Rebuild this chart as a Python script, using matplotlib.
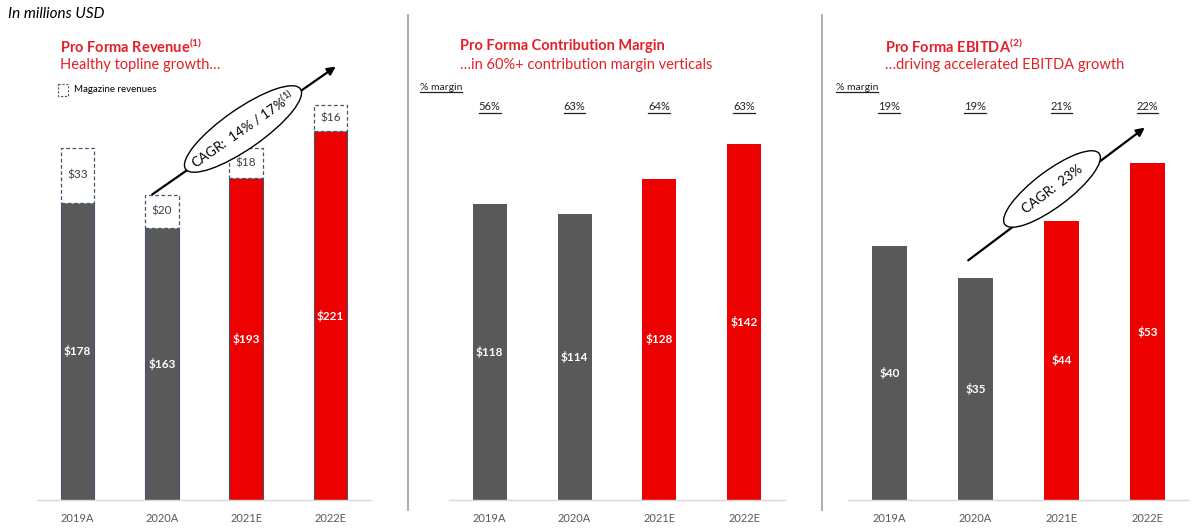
import numpy as np
import matplotlib
matplotlib.use("Agg")
import matplotlib.pyplot as plt
from matplotlib.patches import Ellipse, Rectangle, FancyArrowPatch
from matplotlib.transforms import Affine2D, blended_transform_factory

plt.rcParams['font.family'] = ['Lato', 'DejaVu Sans']
plt.rcParams['mathtext.fontset'] = 'custom'
plt.rcParams['mathtext.rm'] = 'Lato'
plt.rcParams['mathtext.bf'] = 'Lato:bold'

years = ['2019A', '2020A', '2021E', '2022E']
revenue = [178, 163, 193, 221]
magazine = [33, 20, 18, 16]
contribution = [118, 114, 128, 142]
contrib_margin = ['56%', '63%', '64%', '63%']
ebitda = [40, 35, 44, 53]
ebitda_margin = ['19%', '19%', '21%', '22%']

GRAY = '#595959'
RED = '#EC0000'
TITLE_RED = '#E3202A'
EDGE = '#44546A'

W, H = 1200, 530
fig = plt.figure(figsize=(W / 100, H / 100), dpi=100)
# pixel coordinates, origin top-left
px = Affine2D().scale(1 / 100, -1 / 100).translate(0, H / 100) + fig.dpi_scale_trans


def make_ax(x0, x1, top=100, bottom=500):
    ax = fig.add_axes([x0 / W, 1 - bottom / H, (x1 - x0) / W, (bottom - top) / H])
    for s in ['top', 'left', 'right']:
        ax.spines[s].set_visible(False)
    ax.spines['bottom'].set_color('#D9D9D9')
    ax.spines['bottom'].set_linewidth(1)
    ax.set_yticks([])
    ax.set_xticks(range(4))
    ax.set_xticklabels(years, fontsize=8, color=GRAY)
    ax.tick_params(axis='x', length=0, pad=9)
    ax.set_xlim(-0.48, 3.48)
    return ax


bar_colors = [GRAY, GRAY, RED, RED]
x = np.arange(4)
underlined = []

# ---- panel 1: revenue ----
ax1 = make_ax(37, 371)
ax1.set_ylim(0, 239.7)
ax1.bar(x, revenue, width=0.4, color=bar_colors, edgecolor=EDGE, linewidth=0.8)
ax1.bar(x, magazine, bottom=revenue, width=0.4, facecolor='white',
        edgecolor=EDGE, linestyle=(0, (3, 2)), linewidth=0.9)
for i in range(4):
    ax1.text(i, revenue[i] / 2, f'${revenue[i]}', ha='center', va='center',
             color='white', fontsize=8.5, fontweight='bold')
    ax1.text(i, revenue[i] + magazine[i] / 2, f'${magazine[i]}', ha='center',
             va='center', color='#404040', fontsize=8.5)

# ---- panel 2: contribution margin ----
ax2 = make_ax(449, 785)
ax2.set_ylim(0, 159.4)
ax2.bar(x, contribution, width=0.4, color=bar_colors)
for i in range(4):
    ax2.text(i, contribution[i] / 2, f'${contribution[i]}', ha='center', va='center',
             color='white', fontsize=8.5, fontweight='bold')
tr2 = blended_transform_factory(ax2.transData, px)
for i, m in enumerate(contrib_margin):
    underlined.append(ax2.text(i, 107, m, transform=tr2, ha='center', va='center',
                               fontsize=8, color='#222222'))

# ---- panel 3: EBITDA ----
ax3 = make_ax(848, 1189)
ax3.set_ylim(0, 63)
ax3.bar(x, ebitda, width=0.4, color=bar_colors)
for i in range(4):
    ax3.text(i, ebitda[i] / 2, f'${ebitda[i]}', ha='center', va='center',
             color='white', fontsize=8.5, fontweight='bold')
tr3 = blended_transform_factory(ax3.transData, px)
for i, m in enumerate(ebitda_margin):
    underlined.append(ax3.text(i, 107, m, transform=tr3, ha='center', va='center',
                               fontsize=8, color='#222222'))

# ---- titles and notes ----
fig.text(8, 14, 'In millions USD', transform=px, fontsize=11, style='italic',
         va='center', color='black')

titles = [(60, 'Pro Forma Revenue', r'$^{\mathbf{(1)}}$', 'Healthy topline growth…'),
          (460, 'Pro Forma Contribution Margin', '', '…in 60%+ contribution margin verticals'),
          (885, 'Pro Forma EBITDA', r'$^{\mathbf{(2)}}$', '…driving accelerated EBITDA growth')]
for xt, t, sup, sub in titles:
    fig.text(xt, 46, t + sup, transform=px, fontsize=10.5, fontweight='bold',
             color=TITLE_RED, va='center')
    fig.text(xt, 65, sub, transform=px, fontsize=10.5, color=TITLE_RED, va='center')

for xm in (420, 836):
    underlined.append(fig.text(xm, 87, '% margin', transform=px, fontsize=7.5,
                               color='#222222', va='center'))

# underline the margin labels
fig.canvas.draw()
renderer = fig.canvas.get_renderer()
for t in underlined:
    bb = t.get_window_extent(renderer)
    yl = H - bb.y0 + 0.5
    fig.add_artist(plt.Line2D([bb.x0, bb.x1], [yl, yl], transform=px,
                              color='#222222', lw=0.9, zorder=5))

# legend for magazine revenues
fig.add_artist(Rectangle((58, 84), 10, 12, transform=px, facecolor='white',
                         edgecolor=EDGE, linestyle=(0, (2, 1.5)), linewidth=0.8))
fig.text(74, 90, 'Magazine revenues', transform=px, fontsize=7, va='center',
         color='black')

# separators
for xs in (408, 822):
    fig.add_artist(plt.Line2D([xs, xs], [15, 510], transform=px, color='#A6A6A6', lw=1.3))

# CAGR arrows and ellipses
for (x0, y0, x1, y1), (cx, cy, ew, eh), label in [
        ((150, 196, 338, 65), (243, 129, 140, 40), r'CAGR:  14% / 17%$^{\mathregular{(1)}}$'),
        ((966, 262, 1147, 126), (1052, 189, 118, 36), 'CAGR:  23%')]:
    ang = np.degrees(np.arctan2(y0 - y1, x1 - x0))
    fig.add_artist(FancyArrowPatch(
        (x0, y0), (x1, y1), transform=px, arrowstyle='-|>', mutation_scale=12,
        color='black', lw=1.6))
    fig.add_artist(Ellipse((cx, cy), ew, eh, angle=-ang, transform=px,
                           facecolor='white', edgecolor='black', lw=1))
    fig.text(cx, cy, label, transform=px, rotation=ang, rotation_mode='anchor',
             ha='center', va='center', fontsize=9.5, color='black')

fig.savefig('out.png', dpi=100)
